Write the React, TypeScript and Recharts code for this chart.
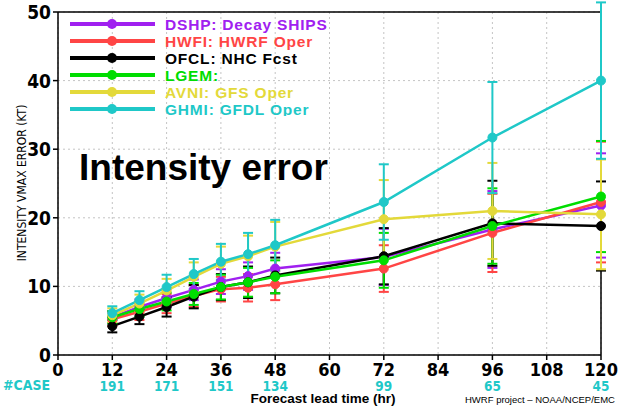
import React from "react";
import { LineChart, Line, XAxis, YAxis, CartesianGrid, ErrorBar, ReferenceLine, Legend } from "recharts";

// forecast lead times (hr)
const hours = [12, 18, 24, 30, 36, 42, 48, 72, 96, 120];

// mean intensity errors (kt) and half-width of the error bars
const dshp = [5.5, 7.0, 8.3, 9.5, 10.7, 11.5, 12.6, 14.3, 18.3, 21.8];
const dshpErr = [0.9, 1.1, 1.3, 1.5, 1.8, 2.0, 2.3, 4.1, 5.6, 7.6];
const hwfi = [5.2, 6.3, 7.5, 8.6, 9.6, 9.8, 10.3, 12.6, 17.8, 22.3];
const hwfiErr = [1.0, 1.2, 1.4, 1.6, 1.8, 2.0, 2.3, 3.4, 5.7, 8.8];
const ofcl = [4.2, 5.6, 7.0, 8.5, 9.9, 10.6, 11.6, 14.4, 19.2, 18.8];
const ofclErr = [0.9, 1.1, 1.4, 1.7, 1.9, 2.3, 2.6, 4.1, 6.2, 6.5];
const lgem = [5.5, 6.7, 7.8, 8.9, 9.9, 10.6, 11.4, 13.8, 18.8, 23.1];
const lgemErr = [0.9, 1.1, 1.3, 1.6, 1.8, 2.1, 2.4, 4.0, 5.5, 8.1];
const avni = [5.8, 7.5, 9.4, 11.4, 13.3, 14.4, 15.8, 19.8, 21.0, 20.5];
const avniErr = [1.0, 1.3, 1.7, 2.1, 2.5, 3.0, 3.6, 5.7, 7.0, 8.0];
const ghmi = [6.1, 8.0, 9.9, 11.8, 13.6, 14.7, 16.0, 22.3, 31.7, 40.0];
const ghmiErr = [1.0, 1.3, 1.8, 2.2, 2.6, 3.1, 3.7, 5.5, 8.1, 11.4];

// number of cases at each verifying time
const caseHours = [12, 24, 36, 48, 72, 96, 120];
const caseCounts = [191, 171, 151, 134, 99, 65, 45];

const xTicks = [0, 12, 24, 36, 48, 60, 72, 84, 96, 108, 120];
const yTicks = [0, 10, 20, 30, 40, 50];

const NARROW = "'Liberation Sans Narrow', 'DejaVu Sans Condensed', sans-serif";
const SANS = "'Liberation Sans', Arial, sans-serif";
const CYAN = "#1fc8c8";

const series = [
  { key: "DSHP", label: "DSHP: Decay SHIPS", color: "#a020f0", values: dshp, err: dshpErr },
  { key: "HWFI", label: "HWFI: HWRF Oper", color: "#ff4545", values: hwfi, err: hwfiErr },
  { key: "OFCL", label: "OFCL: NHC Fcst", color: "#000000", values: ofcl, err: ofclErr },
  { key: "LGEM", label: "LGEM:", color: "#00dd00", values: lgem, err: lgemErr },
  { key: "AVNI", label: "AVNI: GFS Oper", color: "#e3d93a", values: avni, err: avniErr },
  { key: "GHMI", label: "GHMI: GFDL Oper", color: CYAN, values: ghmi, err: ghmiErr },
];

const data = hours.map((h, i) => {
  const row: Record<string, number> = { hour: h };
  series.forEach((s) => {
    row[s.key] = s.values[i];
    row[s.key + "_err"] = s.err[i];
  });
  return row;
});

const XTick = (props: any) => {
  const { x, y, payload } = props;
  const idx = caseHours.indexOf(payload.value);
  return (
    <g>
      <text x={x} y={y} dy={14} textAnchor="middle" fontFamily={NARROW} fontWeight="bold" fontSize={18} fill="#000">
        {payload.value}
      </text>
      {idx >= 0 && (
        <text x={x} y={y + 29} textAnchor="middle" fontFamily={NARROW} fontWeight="bold" fontSize={13.5} fill={CYAN}>
          {caseCounts[idx]}
        </text>
      )}
    </g>
  );
};

const YTick = (props: any) => {
  const { x, y, payload } = props;
  return (
    <text x={x} y={y} dy={7} textAnchor="end" fontFamily={NARROW} fontWeight="bold" fontSize={19} fill="#000">
      {payload.value}
    </text>
  );
};

const LegendBox = () => (
  <svg width={290} height={100}>
    {series.map((s, i) => {
      const cy = 8 + i * 17;
      return (
        <g key={s.key}>
          <line x1={4} x2={89} y1={cy} y2={cy} stroke={s.color} strokeWidth={4} />
          <circle cx={46} cy={cy} r={5} fill={s.color} />
          <text x={99} y={cy + 5.5} fontFamily={SANS} fontWeight="bold" fontSize={15.5} letterSpacing={0.8} fill={s.color}>
            {s.label}
          </text>
        </g>
      );
    })}
  </svg>
);

export default function App() {
  return (
    <div style={{ position: "absolute", left: 0, top: 0, width: 619, height: 407, background: "#fff" }}>
      <LineChart width={619} height={407} data={data} margin={{ top: 12, right: 18, bottom: 22, left: 0 }}>
        <CartesianGrid stroke="#c4c4c4" strokeDasharray="2 3" />
        <XAxis
          dataKey="hour"
          type="number"
          domain={[0, 120]}
          ticks={xTicks}
          interval={0}
          height={30}
          stroke="#000"
          strokeWidth={1.5}
          tickSize={5}
          tick={<XTick />}
        />
        <YAxis
          type="number"
          domain={[0, 50]}
          allowDataOverflow
          ticks={yTicks}
          interval={0}
          width={58}
          stroke="#000"
          strokeWidth={1.5}
          tickSize={5}
          tick={<YTick />}
        />
        <ReferenceLine y={50} stroke="#000" strokeWidth={1.5} />
        <ReferenceLine x={120} stroke="#000" strokeWidth={1.5} />
        {series.map((s) => (
          <Line
            key={s.key}
            dataKey={s.key}
            stroke={s.color}
            strokeWidth={2.5}
            dot={{ r: 4.5, fill: s.color, stroke: s.color, strokeWidth: 1 }}
            isAnimationActive={false}
          >
            <ErrorBar dataKey={s.key + "_err"} stroke={s.color} strokeWidth={2} width={5} />
          </Line>
        ))}
        <Legend
          layout="vertical"
          align="center"
          verticalAlign="middle"
          content={<LegendBox />}
          wrapperStyle={{ left: 66, top: 16, width: 290, height: 100 }}
        />
      </LineChart>
      <svg width={619} height={407} style={{ position: "absolute", left: 0, top: 0, pointerEvents: "none" }}>
        <text x={79} y={180} fontFamily={SANS} fontWeight="bold" fontSize={37} fill="#000">
          Intensity error
        </text>
        <text
          x={22}
          y={183}
          transform="rotate(-90 22 183)"
          textAnchor="middle"
          dominantBaseline="middle"
          fontFamily={NARROW}
          fontSize={12}
          fill="#000"
        >
          INTENSITY VMAX ERROR (KT)
        </text>
        <text x={3} y={390} fontFamily={NARROW} fontWeight="bold" fontSize={14} fill={CYAN}>
          #CASE
        </text>
        <text x={323} y={403} textAnchor="middle" fontFamily={SANS} fontWeight="bold" fontSize={13.5} fill="#000">
          Forecast lead time (hr)
        </text>
        <text x={465} y={403} fontFamily={SANS} fontSize={9.5} fill="#000">
          HWRF project – NOAA/NCEP/EMC
        </text>
      </svg>
    </div>
  );
}
